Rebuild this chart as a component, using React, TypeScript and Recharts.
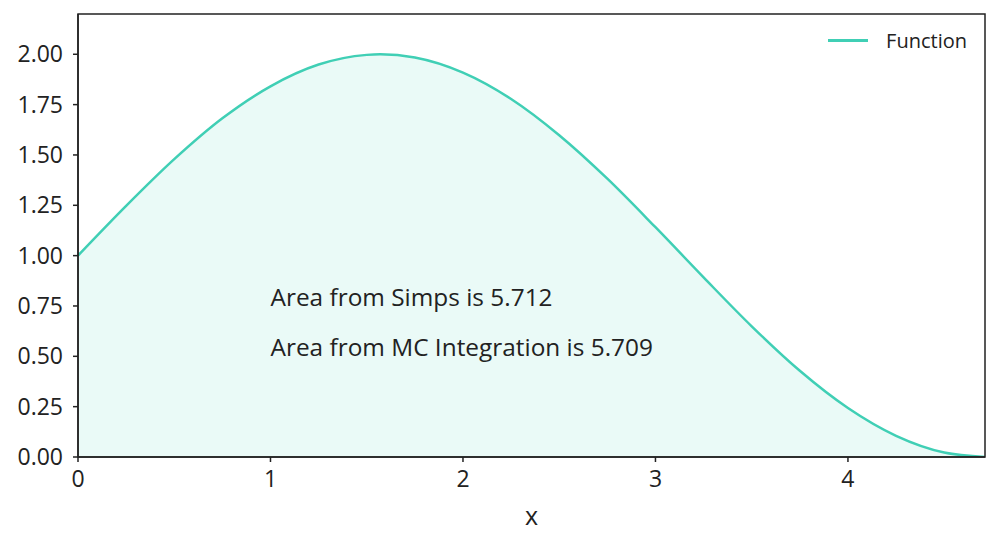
import { useEffect } from 'react';
import {
    ComposedChart,
    Area,
    XAxis,
    YAxis,
    ReferenceArea,
    ReferenceDot,
} from 'recharts';

// values
const xs = [0, 0.25, 0.5, 0.75, 1, 1.25, 1.5, 1.57, 1.75, 2, 2.25, 2.5, 2.75, 3, 3.25, 3.5, 3.75, 4, 4.25, 4.5, 4.712];
const ys = [1.0, 1.247, 1.479, 1.682, 1.841, 1.949, 1.997, 2.0, 1.984, 1.909, 1.778, 1.598, 1.382, 1.141, 0.892, 0.649, 0.428, 0.243, 0.105, 0.022, 0.0];
const xTicks = [0, 1, 2, 3, 4];
const yTicks = [0, 0.25, 0.5, 0.75, 1, 1.25, 1.5, 1.75, 2];
const notes = [
    { x: 1, y: 0.75, text: 'Area from Simps is 5.712' },
    { x: 1, y: 0.5, text: 'Area from MC Integration is 5.709' },
];

const data = xs.map((x, i) => ({ x, y: ys[i] }));

const COLOR = '#40cfb5';
const FONT = '"Open Sans", sans-serif';

function LegendBox() {
    return (
        <div
            style={{
                position: 'absolute',
                top: 27,
                right: 33,
                display: 'flex',
                alignItems: 'center',
                fontFamily: FONT,
                fontSize: 20,
                color: '#222',
            }}
        >
            <div style={{ width: 40, height: 3, background: COLOR, marginRight: 18 }} />
            <span>Function</span>
        </div>
    );
}

export default function App() {
    useEffect(() => {
        document.body.style.margin = '0';
    }, []);

    return (
        <div style={{ position: 'relative', width: 1000, height: 547, background: '#fff' }}>
            <ComposedChart width={1000} height={547} data={data} margin={{ top: 14, right: 15, left: 0, bottom: 30 }}>
                <XAxis
                    dataKey="x"
                    type="number"
                    domain={[0, 4.712]}
                    ticks={xTicks}
                    allowDataOverflow
                    height={60}
                    tickSize={5}
                    tickMargin={9}
                    tick={{ fill: '#222', fontSize: 23, fontFamily: FONT }}
                    axisLine={{ stroke: '#222', strokeWidth: 1.5 }}
                    tickLine={{ stroke: '#222', strokeWidth: 1.5 }}
                    label={{ value: 'x', position: 'insideBottom', offset: -8, fill: '#222', fontSize: 25, fontFamily: FONT }}
                />
                <YAxis
                    type="number"
                    domain={[0, 2.2]}
                    ticks={yTicks}
                    allowDataOverflow
                    width={78}
                    tickSize={5}
                    tickMargin={10}
                    tickFormatter={(v) => v.toFixed(2)}
                    tick={{ fill: '#222', fontSize: 23, fontFamily: FONT }}
                    axisLine={{ stroke: '#222', strokeWidth: 1.5 }}
                    tickLine={{ stroke: '#222', strokeWidth: 1.5 }}
                />
                <Area
                    type="monotone"
                    dataKey="y"
                    stroke={COLOR}
                    strokeWidth={2.5}
                    fill={COLOR}
                    fillOpacity={0.11}
                    isAnimationActive={false}
                />
                <ReferenceArea x1={0} x2={4.712} y1={0} y2={2.2} fill="none" stroke="#222" strokeWidth={1.5} />
                {notes.map((n) => (
                    <ReferenceDot
                        key={n.text}
                        x={n.x}
                        y={n.y}
                        r={0}
                        stroke="none"
                        fill="none"
                        label={(p: any) => (
                            <text x={p.viewBox.x} y={p.viewBox.y} fill="#222" fontSize={24.4} fontFamily={FONT}>
                                {n.text}
                            </text>
                        )}
                    />
                ))}
            </ComposedChart>
            <LegendBox />
        </div>
    );
}
